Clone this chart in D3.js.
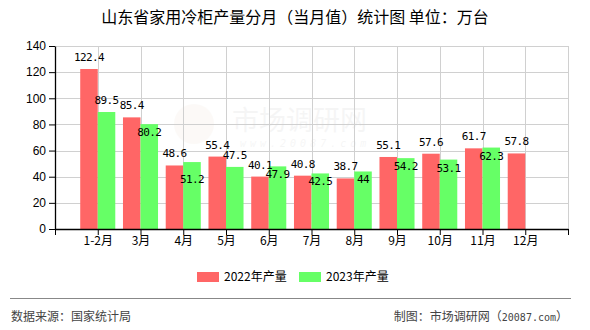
<!DOCTYPE html>
<html>
<head>
<meta charset="utf-8">
<script src="https://cdn.jsdelivr.net/npm/d3@7/dist/d3.min.js"></script>
<style>
  html, body { margin: 0; padding: 0; background: #fff; }
  svg { display: block; }
</style>
</head>
<body>
<svg id="chart" width="590" height="330"></svg>
<script>
// Monthly output of household freezers in Shandong (10k units)
const months = ["1-2月", "3月", "4月", "5月", "6月", "7月", "8月", "9月", "10月", "11月", "12月"];
const output2022 = [122.4, 85.4, 48.6, 55.4, 40.1, 40.8, 38.7, 55.1, 57.6, 61.7, 57.8];
const output2023 = [89.5, 80.2, 51.2, 47.5, 47.9, 42.5, 44, 54.2, 53.1, 62.3, null];
const yTicks = [0, 20, 40, 60, 80, 100, 120, 140];
const seriesNames = ["2022年产量", "2023年产量"];

(function () {
const colors = ["#ff6666", "#66ff66"];
const svg = d3.select("#chart");
const CJK = "'Noto Sans CJK SC', sans-serif";
const MONO = "'DejaVu Sans Mono', monospace";

const plotL = 55, plotR = 568, plotT = 46, plotB = 229;
const x = d3.scaleLinear().domain([0, 12]).range([plotL, plotR]);
const y = d3.scaleLinear().domain([0, 140]).range([plotB, plotT]);
const step = x(1) - x(0);
const bw = step * 0.41;

// title
svg.append("text")
  .attr("x", 295).attr("y", 22.5)
  .attr("text-anchor", "middle")
  .attr("font-family", CJK).attr("font-size", 16).attr("fill", "#000")
  .text("山东省家用冷柜产量分月（当月值）统计图 单位：万台");

// faint site mark behind the plot
const wm = svg.append("g").attr("opacity", 0.05);
wm.append("circle").attr("cx", 194).attr("cy", 124).attr("r", 20).attr("fill", "#c9a27a");
wm.append("text").attr("x", 232).attr("y", 130)
  .attr("font-family", CJK).attr("font-size", 27).attr("fill", "#555")
  .text("市场调研网");
wm.append("text").attr("x", 240).attr("y", 147)
  .attr("font-family", MONO).attr("font-size", 10).attr("font-style", "italic").attr("fill", "#555")
  .attr("letter-spacing", 4)
  .text("www.20087.com");

// grid
const grid = svg.append("g").attr("stroke", "#d0d0d0").attr("stroke-width", 1);
yTicks.filter(t => t > 0).forEach(t => {
  grid.append("line").attr("x1", plotL).attr("x2", plotR)
    .attr("y1", Math.round(y(t)) + 0.5).attr("y2", Math.round(y(t)) + 0.5);
});
d3.range(1, 13).forEach(i => {
  grid.append("line").attr("x1", Math.round(x(i)) + 0.5).attr("x2", Math.round(x(i)) + 0.5)
    .attr("y1", plotT).attr("y2", plotB);
});

// bars
const bars = svg.append("g");
bars.selectAll("rect.a").data(output2022).join("rect")
  .attr("x", (d, i) => x(i + 1) - bw)
  .attr("y", d => y(d))
  .attr("width", bw)
  .attr("height", d => y(0) - y(d))
  .attr("fill", colors[0]);
bars.selectAll("rect.b").data(output2023.map((v, i) => ({ v, i })).filter(d => d.v != null)).join("rect")
  .attr("x", d => x(d.i + 1))
  .attr("y", d => y(d.v))
  .attr("width", bw)
  .attr("height", d => y(0) - y(d.v))
  .attr("fill", colors[1]);

// value labels
const lab = svg.append("g")
  .attr("font-family", MONO).attr("font-size", 11).attr("letter-spacing", -0.6)
  .attr("fill", "#000").attr("text-anchor", "middle");
output2022.forEach((v, i) => {
  lab.append("text")
    .attr("x", x(i + 1) - bw / 2)
    .attr("y", y(v) - 8)
    .text(v);
});
const greenAbove = new Set([0, 3]);
const greenDeep = new Set([2]);
output2023.forEach((v, i) => {
  if (v == null) return;
  let ty;
  if (greenAbove.has(i)) ty = y(v) - 8;
  else if (greenDeep.has(i)) ty = y(v) + 21;
  else ty = y(v) + 12;
  lab.append("text")
    .attr("x", x(i + 1) + bw / 2)
    .attr("y", ty)
    .text(v);
});

// axes
const xAxis = d3.axisBottom(x)
  .tickValues(d3.range(0, 13))
  .tickFormat(i => (i >= 1 && i <= months.length) ? months[i - 1] : "")
  .tickSize(6).tickSizeOuter(0);
const gx = svg.append("g").attr("transform", `translate(0,${plotB})`).call(xAxis);
gx.select(".domain").attr("stroke", "#000").attr("stroke-width", 1.3);
gx.selectAll(".tick line").attr("stroke", "#000");
gx.selectAll(".tick text").attr("font-family", CJK).attr("font-size", 12).attr("fill", "#000").attr("dy", "0.6em");

const yAxis = d3.axisLeft(y).tickValues(yTicks).tickSize(6).tickSizeOuter(0);
const gy = svg.append("g").attr("transform", `translate(${plotL},0)`).call(yAxis);
gy.select(".domain").attr("stroke", "#000").attr("stroke-width", 1.3);
gy.selectAll(".tick line").attr("stroke", "#000");
gy.selectAll(".tick text").attr("font-family", "'Liberation Sans', Arial, sans-serif").attr("font-size", 12).attr("fill", "#000").attr("x", -9);

// legend
const legend = svg.append("g").attr("font-family", CJK).attr("font-size", 12);
const lx = [197, 299];
seriesNames.forEach((name, k) => {
  legend.append("rect").attr("x", lx[k]).attr("y", 272).attr("width", 22).attr("height", 10).attr("fill", colors[k]);
  legend.append("text").attr("x", lx[k] + 27).attr("y", 281).attr("fill", "#000").text(name);
});

// footer
svg.append("line").attr("x1", 10).attr("x2", 571).attr("y1", 298.5).attr("y2", 298.5)
  .attr("stroke", "#888").attr("stroke-width", 1);
svg.append("text").attr("x", 11).attr("y", 321)
  .attr("font-family", CJK).attr("font-size", 12).attr("fill", "#444")
  .text("数据来源：国家统计局");
const src = svg.append("text").attr("x", 568).attr("y", 321).attr("text-anchor", "end")
  .attr("font-family", CJK).attr("font-size", 12).attr("fill", "#444");
src.append("tspan").text("制图：市场调研网（");
src.append("tspan").attr("font-family", MONO).attr("font-size", 10).text("20087.com");
src.append("tspan").text("）");
})();
</script>
</body>
</html>
